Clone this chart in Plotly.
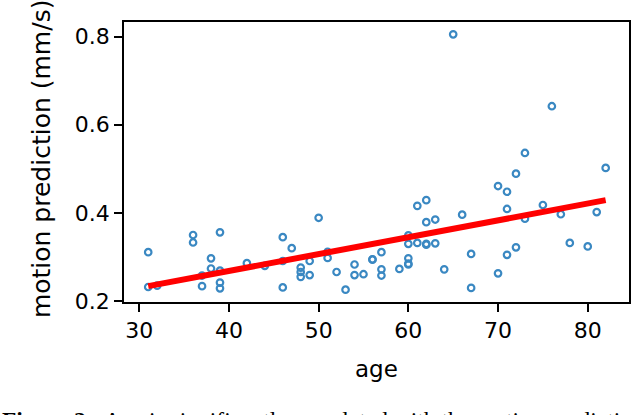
import plotly.graph_objects as go

# Data
ages = [31, 31, 32, 36, 36, 37, 37, 38, 38, 39, 39, 39, 39, 42, 44, 46, 46, 46, 47,
        48, 48, 48, 49, 49, 50, 51, 51, 52, 53, 54, 54, 55, 56, 56, 57, 57, 57, 59,
        60, 60, 60, 60, 60, 61, 61, 62, 62, 62, 62, 63, 63, 64, 65, 66, 67, 67,
        70, 70, 71, 71, 71, 72, 72, 73, 73, 75, 76, 77, 78, 80, 81, 82]
motion = [0.311, 0.232, 0.235, 0.350, 0.333, 0.258, 0.234, 0.297, 0.274, 0.356, 0.269,
          0.242, 0.229, 0.286, 0.280, 0.345, 0.291, 0.231, 0.320, 0.276, 0.266, 0.255,
          0.291, 0.259, 0.389, 0.312, 0.298, 0.266, 0.226, 0.283, 0.259, 0.261, 0.294,
          0.295, 0.311, 0.272, 0.258, 0.273, 0.349, 0.330, 0.297, 0.283, 0.285, 0.416,
          0.332, 0.429, 0.379, 0.328, 0.330, 0.385, 0.331, 0.272, 0.805, 0.396, 0.307,
          0.230, 0.461, 0.263, 0.448, 0.409, 0.305, 0.489, 0.322, 0.536, 0.387, 0.418,
          0.642, 0.397, 0.332, 0.324, 0.402, 0.502]
fit_ages = [31, 82]
fit_motion = [0.234, 0.429]

x_ticks = [30, 40, 50, 60, 70, 80]
y_ticks = [0.2, 0.4, 0.6, 0.8]
y_tick_labels = ["0.2", "0.4", "0.6", "0.8"]

x_label = "age"
y_label = "motion prediction (mm/s)"
caption = "<b>Figure 2:</b>  Age is significantly correlated with the motion prediction"

fig = go.Figure()
fig.add_trace(go.Scatter(
    x=ages, y=motion, mode="markers",
    marker=dict(symbol="circle-open", size=6.5, color="#3a88c2", line=dict(width=2.2)),
    showlegend=False,
))
fig.add_trace(go.Scatter(
    x=fit_ages, y=fit_motion, mode="lines",
    line=dict(color="#ff0000", width=6),
    showlegend=False,
))

axis_common = dict(
    showgrid=False, zeroline=False, showline=True, linecolor="black", linewidth=1.5,
    mirror=True, ticks="outside", ticklen=8, tickwidth=1.5, tickcolor="black",
    automargin=False,
    tickfont=dict(family="DejaVu Sans", size=22, color="black"),
)

fig.update_layout(
    template="none",
    width=640, height=415,
    margin=dict(l=124, r=11, t=22, b=113, pad=0),
    paper_bgcolor="white", plot_bgcolor="white",
    xaxis=dict(range=[28.3, 84.6], tickvals=x_ticks, **axis_common),
    yaxis=dict(range=[0.198, 0.833], tickvals=y_ticks, ticktext=y_tick_labels,
               **axis_common),
    annotations=[
        dict(text=x_label, xref="paper", yref="paper",
             x=0.5, y=-0.185, xanchor="center", yanchor="top", showarrow=False,
             font=dict(family="DejaVu Sans", size=23, color="black")),
        dict(text=y_label, textangle=-90, xref="paper", yref="paper",
             x=-0.162, y=0.511, xanchor="center", yanchor="middle", showarrow=False,
             font=dict(family="DejaVu Sans", size=25, color="black")),
        dict(text=caption, xref="paper", yref="paper", x=-0.245, y=-0.367,
             xanchor="left", yanchor="top", showarrow=False,
             font=dict(family="Liberation Serif", size=23.5, color="black")),
    ],
)

fig.write_html("out.html", config={"displayModeBar": False},
               post_script="document.body.style.margin='0px';")
